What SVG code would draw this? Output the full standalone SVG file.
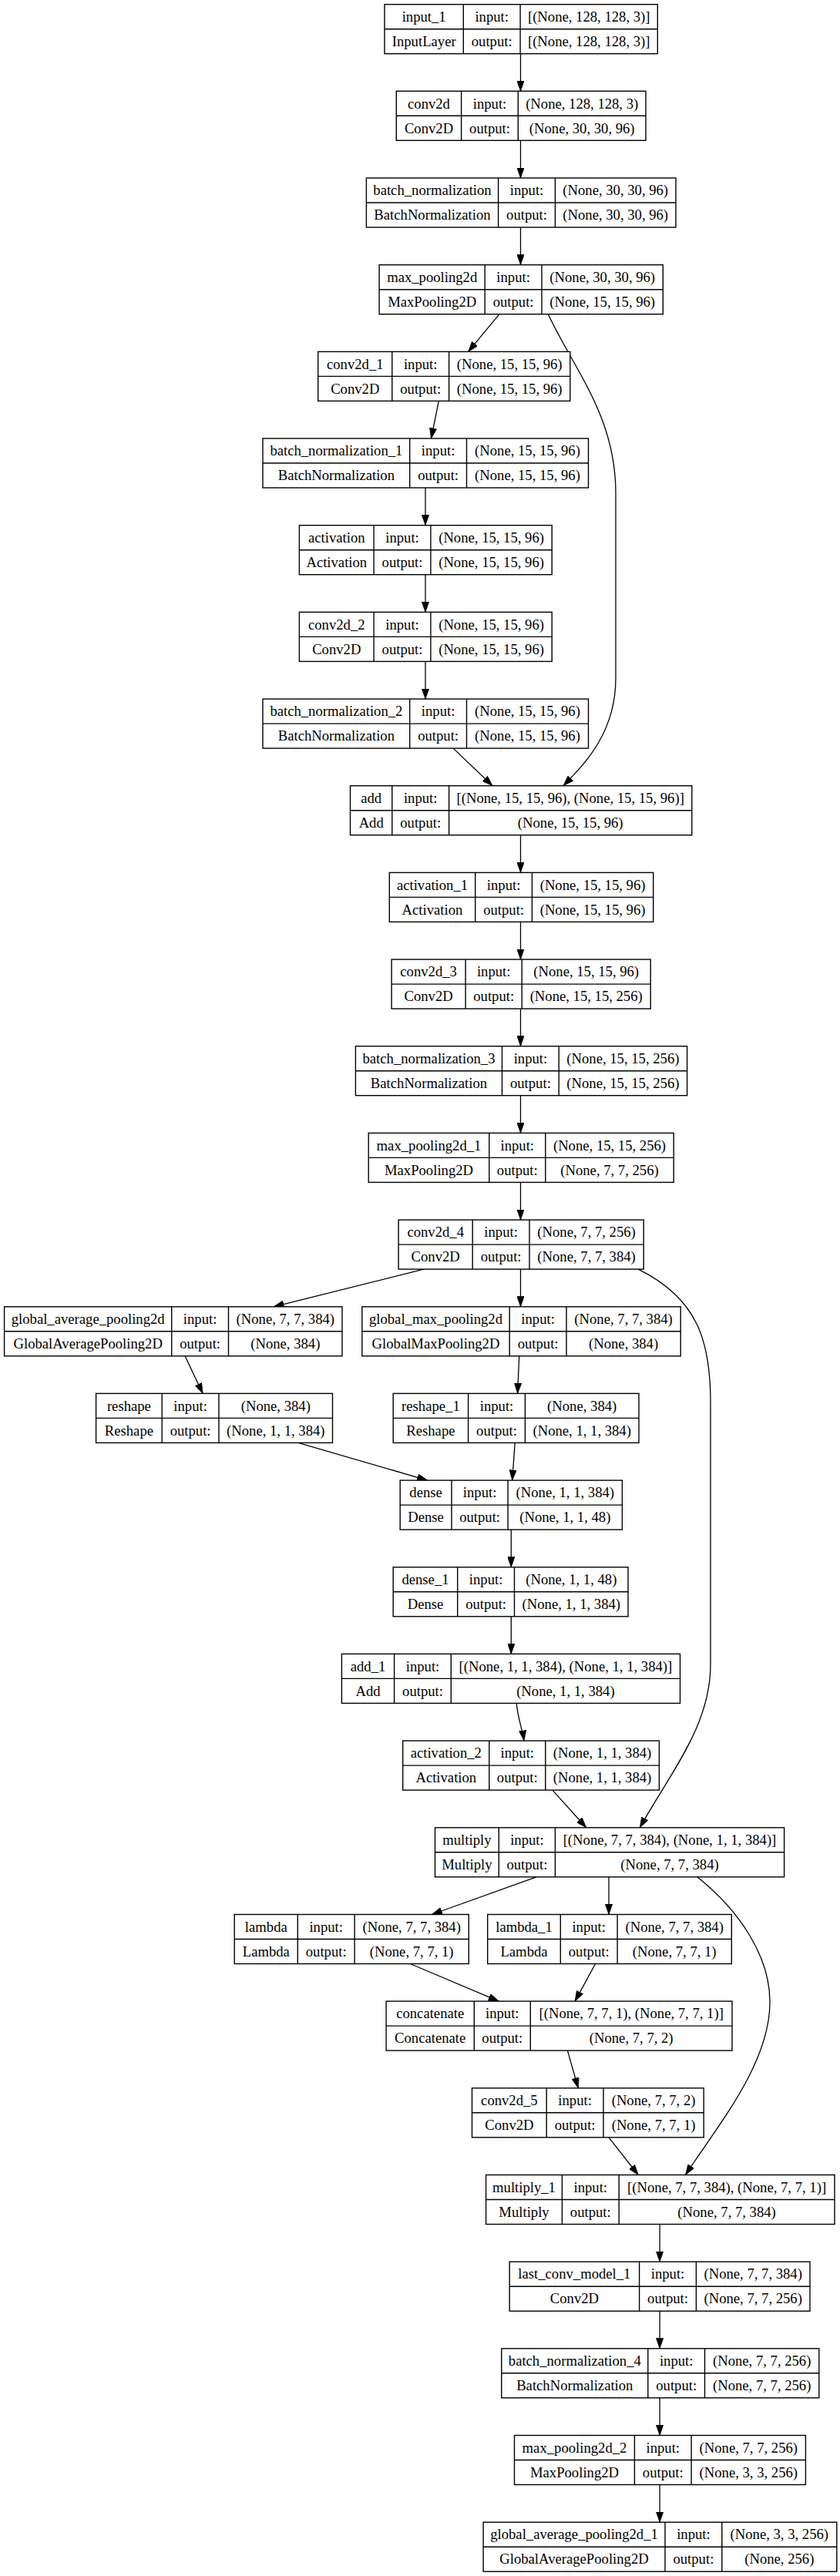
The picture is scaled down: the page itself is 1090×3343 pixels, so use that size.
<svg xmlns="http://www.w3.org/2000/svg" width="1090" height="3343" viewBox="0 0 1090 3343">
<style>
.n rect{fill:#fff;stroke:#000;stroke-width:1.4}
.n line{stroke:#000;stroke-width:1.4}
.n text{font-family:"Liberation Serif","Times New Roman",serif;font-size:18.67px;fill:#000;text-anchor:middle}
.e path{fill:none;stroke:#000;stroke-width:1.3;marker-end:url(#ah)}
</style>
<defs>
<marker id="ah" viewBox="0 0 10 7" refX="10" refY="3.5" markerUnits="userSpaceOnUse" markerWidth="13.5" markerHeight="9.5" orient="auto">
<path d="M0,0 L10,3.5 L0,7 z" fill="#000" stroke="#000" stroke-width="0.5"/>
</marker>
</defs>
<rect x="0" y="0" width="1090" height="3343" fill="#fff"/>

<g class="e" id="connectors">
<path d="M675.5,69.7 L675.5,118.3"/>
<path d="M675.5,182.3 L675.5,231"/>
<path d="M675.5,295 L675.5,343.7"/>
<path d="M648,407.7 L607.6,456.4"/>
<path d="M711.3,407.7 C745,480 799,540 799,640 L799,880 C799,950 760,990 731,1019.7"/>
<path d="M569.3,520.4 L559.5,569"/>
<path d="M552,633 L552,681.7"/>
<path d="M552,745.7 L552,794.4"/>
<path d="M552,858.4 L552,907.1"/>
<path d="M588.1,971.1 L639,1019.7"/>
<path d="M675.5,1083.7 L675.5,1132.4"/>
<path d="M675.5,1196.4 L675.5,1245.1"/>
<path d="M675.5,1309.1 L675.5,1357.7"/>
<path d="M675.5,1421.7 L675.5,1470.4"/>
<path d="M675.5,1534.4 L675.5,1583.1"/>
<path d="M549.8,1647.1 L355,1695.8"/>
<path d="M675.5,1647.1 L675.5,1695.8"/>
<path d="M828.2,1647.1 C905,1685 922,1740 922,1820 L922,2160 C922,2240 870,2300 830.3,2371.8"/>
<path d="M240.1,1759.8 L263.1,1808.4"/>
<path d="M673.7,1759.8 L671.6,1808.4"/>
<path d="M387,1872.4 L554.7,1921.1"/>
<path d="M668.2,1872.4 L664.7,1921.1"/>
<path d="M663.3,1985.1 L663.3,2033.8"/>
<path d="M663.3,2097.8 L663.3,2146.4"/>
<path d="M670.2,2210.4 C672,2230 678,2245 680,2259.1"/>
<path d="M716.9,2323.1 L760.7,2371.8"/>
<path d="M696,2435.8 L560.3,2484.5"/>
<path d="M790,2435.8 L790,2484.5"/>
<path d="M904.8,2435.8 C960,2480 1000,2540 999,2600 C998,2680 930,2760 889.5,2822.5"/>
<path d="M532.4,2548.5 L647.3,2597.1"/>
<path d="M772.6,2548.5 L746.1,2597.1"/>
<path d="M736.4,2661.1 L750.3,2709.8"/>
<path d="M790,2773.8 L828.2,2822.5"/>
<path d="M856.1,2886.5 L856.1,2935.2"/>
<path d="M856.1,2999.2 L856.1,3047.8"/>
<path d="M856.1,3111.8 L856.1,3160.5"/>
<path d="M856.1,3224.5 L856.1,3273.2"/>
</g>

<g class="n" id="input_1" transform="translate(0,5.7)">
<rect x="499" y="0" width="354.3" height="64"/>
<line x1="601.3" y1="0" x2="601.3" y2="64"/><line x1="675.1" y1="0" x2="675.1" y2="64"/><line x1="499" y1="32" x2="853.3" y2="32"/>
<text x="550.2" y="22.3">input_1</text><text x="638.2" y="22.3">input:</text><text x="764.2" y="22.3">[(None, 128, 128, 3)]</text>
<text x="550.2" y="54.3">InputLayer</text><text x="638.2" y="54.3">output:</text><text x="764.2" y="54.3">[(None, 128, 128, 3)]</text>
</g>

<g class="n" id="conv2d" transform="translate(0,118.3)">
<rect x="514.3" y="0" width="323.7" height="64"/>
<line x1="598.6" y1="0" x2="598.6" y2="64"/><line x1="672.3" y1="0" x2="672.3" y2="64"/><line x1="514.3" y1="32" x2="838" y2="32"/>
<text x="556.5" y="22.3">conv2d</text><text x="635.5" y="22.3">input:</text><text x="755.2" y="22.3">(None, 128, 128, 3)</text>
<text x="556.5" y="54.3">Conv2D</text><text x="635.5" y="54.3">output:</text><text x="755.2" y="54.3">(None, 30, 30, 96)</text>
</g>

<g class="n" id="batch_normalization" transform="translate(0,231)">
<rect x="475.4" y="0" width="401.6" height="64"/>
<line x1="646.6" y1="0" x2="646.6" y2="64"/><line x1="720.4" y1="0" x2="720.4" y2="64"/><line x1="475.4" y1="32" x2="877" y2="32"/>
<text x="561" y="22.3">batch_normalization</text><text x="683.5" y="22.3">input:</text><text x="798.7" y="22.3">(None, 30, 30, 96)</text>
<text x="561" y="54.3">BatchNormalization</text><text x="683.5" y="54.3">output:</text><text x="798.7" y="54.3">(None, 30, 30, 96)</text>
</g>

<g class="n" id="max_pooling2d" transform="translate(0,343.7)">
<rect x="492.1" y="0" width="368.2" height="64"/>
<line x1="629.2" y1="0" x2="629.2" y2="64"/><line x1="703" y1="0" x2="703" y2="64"/><line x1="492.1" y1="32" x2="860.3" y2="32"/>
<text x="560.7" y="22.3">max_pooling2d</text><text x="666.1" y="22.3">input:</text><text x="781.7" y="22.3">(None, 30, 30, 96)</text>
<text x="560.7" y="54.3">MaxPooling2D</text><text x="666.1" y="54.3">output:</text><text x="781.7" y="54.3">(None, 15, 15, 96)</text>
</g>

<g class="n" id="conv2d_1" transform="translate(0,456.4)">
<rect x="412.7" y="0" width="327.1" height="64"/>
<line x1="508.8" y1="0" x2="508.8" y2="64"/><line x1="582.6" y1="0" x2="582.6" y2="64"/><line x1="412.7" y1="32" x2="739.8" y2="32"/>
<text x="460.8" y="22.3">conv2d_1</text><text x="545.7" y="22.3">input:</text><text x="661.2" y="22.3">(None, 15, 15, 96)</text>
<text x="460.8" y="54.3">Conv2D</text><text x="545.7" y="54.3">output:</text><text x="661.2" y="54.3">(None, 15, 15, 96)</text>
</g>

<g class="n" id="batch_normalization_1" transform="translate(0,569)">
<rect x="341" y="0" width="422.5" height="64"/>
<line x1="531.7" y1="0" x2="531.7" y2="64"/><line x1="605.5" y1="0" x2="605.5" y2="64"/><line x1="341" y1="32" x2="763.5" y2="32"/>
<text x="436.4" y="22.3">batch_normalization_1</text><text x="568.6" y="22.3">input:</text><text x="684.5" y="22.3">(None, 15, 15, 96)</text>
<text x="436.4" y="54.3">BatchNormalization</text><text x="568.6" y="54.3">output:</text><text x="684.5" y="54.3">(None, 15, 15, 96)</text>
</g>

<g class="n" id="activation" transform="translate(0,681.7)">
<rect x="388.4" y="0" width="327.8" height="64"/>
<line x1="485.1" y1="0" x2="485.1" y2="64"/><line x1="558.9" y1="0" x2="558.9" y2="64"/><line x1="388.4" y1="32" x2="716.2" y2="32"/>
<text x="436.8" y="22.3">activation</text><text x="522" y="22.3">input:</text><text x="637.6" y="22.3">(None, 15, 15, 96)</text>
<text x="436.8" y="54.3">Activation</text><text x="522" y="54.3">output:</text><text x="637.6" y="54.3">(None, 15, 15, 96)</text>
</g>

<g class="n" id="conv2d_2" transform="translate(0,794.4)">
<rect x="388.4" y="0" width="327.8" height="64"/>
<line x1="485.1" y1="0" x2="485.1" y2="64"/><line x1="558.9" y1="0" x2="558.9" y2="64"/><line x1="388.4" y1="32" x2="716.2" y2="32"/>
<text x="436.8" y="22.3">conv2d_2</text><text x="522" y="22.3">input:</text><text x="637.6" y="22.3">(None, 15, 15, 96)</text>
<text x="436.8" y="54.3">Conv2D</text><text x="522" y="54.3">output:</text><text x="637.6" y="54.3">(None, 15, 15, 96)</text>
</g>

<g class="n" id="batch_normalization_2" transform="translate(0,907.1)">
<rect x="341" y="0" width="422.5" height="64"/>
<line x1="531.7" y1="0" x2="531.7" y2="64"/><line x1="605.5" y1="0" x2="605.5" y2="64"/><line x1="341" y1="32" x2="763.5" y2="32"/>
<text x="436.4" y="22.3">batch_normalization_2</text><text x="568.6" y="22.3">input:</text><text x="684.5" y="22.3">(None, 15, 15, 96)</text>
<text x="436.4" y="54.3">BatchNormalization</text><text x="568.6" y="54.3">output:</text><text x="684.5" y="54.3">(None, 15, 15, 96)</text>
</g>

<g class="n" id="add" transform="translate(0,1019.7)">
<rect x="454.5" y="0" width="443.3" height="64"/>
<line x1="508.8" y1="0" x2="508.8" y2="64"/><line x1="582.6" y1="0" x2="582.6" y2="64"/><line x1="454.5" y1="32" x2="897.8" y2="32"/>
<text x="481.7" y="22.3">add</text><text x="545.7" y="22.3">input:</text><text x="740.2" y="22.3">[(None, 15, 15, 96), (None, 15, 15, 96)]</text>
<text x="481.7" y="54.3">Add</text><text x="545.7" y="54.3">output:</text><text x="740.2" y="54.3">(None, 15, 15, 96)</text>
</g>

<g class="n" id="activation_1" transform="translate(0,1132.4)">
<rect x="505.3" y="0" width="342.4" height="64"/>
<line x1="616.7" y1="0" x2="616.7" y2="64"/><line x1="690.4" y1="0" x2="690.4" y2="64"/><line x1="505.3" y1="32" x2="847.7" y2="32"/>
<text x="561" y="22.3">activation_1</text><text x="653.6" y="22.3">input:</text><text x="769.1" y="22.3">(None, 15, 15, 96)</text>
<text x="561" y="54.3">Activation</text><text x="653.6" y="54.3">output:</text><text x="769.1" y="54.3">(None, 15, 15, 96)</text>
</g>

<g class="n" id="conv2d_3" transform="translate(0,1245.1)">
<rect x="508.1" y="0" width="336.1" height="64"/>
<line x1="604.1" y1="0" x2="604.1" y2="64"/><line x1="677.2" y1="0" x2="677.2" y2="64"/><line x1="508.1" y1="32" x2="844.2" y2="32"/>
<text x="556.1" y="22.3">conv2d_3</text><text x="640.7" y="22.3">input:</text><text x="760.7" y="22.3">(None, 15, 15, 96)</text>
<text x="556.1" y="54.3">Conv2D</text><text x="640.7" y="54.3">output:</text><text x="760.7" y="54.3">(None, 15, 15, 256)</text>
</g>

<g class="n" id="batch_normalization_3" transform="translate(0,1357.7)">
<rect x="461.4" y="0" width="430.2" height="64"/>
<line x1="651.5" y1="0" x2="651.5" y2="64"/><line x1="725.2" y1="0" x2="725.2" y2="64"/><line x1="461.4" y1="32" x2="891.6" y2="32"/>
<text x="556.5" y="22.3">batch_normalization_3</text><text x="688.4" y="22.3">input:</text><text x="808.4" y="22.3">(None, 15, 15, 256)</text>
<text x="556.5" y="54.3">BatchNormalization</text><text x="688.4" y="54.3">output:</text><text x="808.4" y="54.3">(None, 15, 15, 256)</text>
</g>

<g class="n" id="max_pooling2d_1" transform="translate(0,1470.4)">
<rect x="478.2" y="0" width="396" height="64"/>
<line x1="634.8" y1="0" x2="634.8" y2="64"/><line x1="707.8" y1="0" x2="707.8" y2="64"/><line x1="478.2" y1="32" x2="874.2" y2="32"/>
<text x="556.5" y="22.3">max_pooling2d_1</text><text x="671.3" y="22.3">input:</text><text x="791" y="22.3">(None, 15, 15, 256)</text>
<text x="556.5" y="54.3">MaxPooling2D</text><text x="671.3" y="54.3">output:</text><text x="791" y="54.3">(None, 7, 7, 256)</text>
</g>

<g class="n" id="conv2d_4" transform="translate(0,1583.1)">
<rect x="517.1" y="0" width="318.1" height="64"/>
<line x1="613.2" y1="0" x2="613.2" y2="64"/><line x1="687" y1="0" x2="687" y2="64"/><line x1="517.1" y1="32" x2="835.2" y2="32"/>
<text x="565.2" y="22.3">conv2d_4</text><text x="650.1" y="22.3">input:</text><text x="761.1" y="22.3">(None, 7, 7, 256)</text>
<text x="565.2" y="54.3">Conv2D</text><text x="650.1" y="54.3">output:</text><text x="761.1" y="54.3">(None, 7, 7, 384)</text>
</g>

<g class="n" id="global_average_pooling2d" transform="translate(0,1695.8)">
<rect x="5.6" y="0" width="438.4" height="64"/>
<line x1="222.7" y1="0" x2="222.7" y2="64"/><line x1="296.5" y1="0" x2="296.5" y2="64"/><line x1="5.6" y1="32" x2="444" y2="32"/>
<text x="114.2" y="22.3">global_average_pooling2d</text><text x="259.6" y="22.3">input:</text><text x="370.3" y="22.3">(None, 7, 7, 384)</text>
<text x="114.2" y="54.3">GlobalAveragePooling2D</text><text x="259.6" y="54.3">output:</text><text x="370.3" y="54.3">(None, 384)</text>
</g>

<g class="n" id="global_max_pooling2d" transform="translate(0,1695.8)">
<rect x="469.8" y="0" width="413.4" height="64"/>
<line x1="661.2" y1="0" x2="661.2" y2="64"/><line x1="735" y1="0" x2="735" y2="64"/><line x1="469.8" y1="32" x2="883.2" y2="32"/>
<text x="565.5" y="22.3">global_max_pooling2d</text><text x="698.1" y="22.3">input:</text><text x="809.1" y="22.3">(None, 7, 7, 384)</text>
<text x="565.5" y="54.3">GlobalMaxPooling2D</text><text x="698.1" y="54.3">output:</text><text x="809.1" y="54.3">(None, 384)</text>
</g>

<g class="n" id="reshape" transform="translate(0,1808.4)">
<rect x="124.6" y="0" width="306.9" height="64"/>
<line x1="210.2" y1="0" x2="210.2" y2="64"/><line x1="284" y1="0" x2="284" y2="64"/><line x1="124.6" y1="32" x2="431.5" y2="32"/>
<text x="167.4" y="22.3">reshape</text><text x="247.1" y="22.3">input:</text><text x="357.8" y="22.3">(None, 384)</text>
<text x="167.4" y="54.3">Reshape</text><text x="247.1" y="54.3">output:</text><text x="357.8" y="54.3">(None, 1, 1, 384)</text>
</g>

<g class="n" id="reshape_1" transform="translate(0,1808.4)">
<rect x="510.2" y="0" width="318.8" height="64"/>
<line x1="607.6" y1="0" x2="607.6" y2="64"/><line x1="681.4" y1="0" x2="681.4" y2="64"/><line x1="510.2" y1="32" x2="829" y2="32"/>
<text x="558.9" y="22.3">reshape_1</text><text x="644.5" y="22.3">input:</text><text x="755.2" y="22.3">(None, 384)</text>
<text x="558.9" y="54.3">Reshape</text><text x="644.5" y="54.3">output:</text><text x="755.2" y="54.3">(None, 1, 1, 384)</text>
</g>

<g class="n" id="dense" transform="translate(0,1921.1)">
<rect x="519.2" y="0" width="288.2" height="64"/>
<line x1="586" y1="0" x2="586" y2="64"/><line x1="659.1" y1="0" x2="659.1" y2="64"/><line x1="519.2" y1="32" x2="807.4" y2="32"/>
<text x="552.6" y="22.3">dense</text><text x="622.6" y="22.3">input:</text><text x="733.3" y="22.3">(None, 1, 1, 384)</text>
<text x="552.6" y="54.3">Dense</text><text x="622.6" y="54.3">output:</text><text x="733.3" y="54.3">(None, 1, 1, 48)</text>
</g>

<g class="n" id="dense_1" transform="translate(0,2033.8)">
<rect x="510.2" y="0" width="304.8" height="64"/>
<line x1="593.7" y1="0" x2="593.7" y2="64"/><line x1="667.5" y1="0" x2="667.5" y2="64"/><line x1="510.2" y1="32" x2="815" y2="32"/>
<text x="552" y="22.3">dense_1</text><text x="630.6" y="22.3">input:</text><text x="741.3" y="22.3">(None, 1, 1, 48)</text>
<text x="552" y="54.3">Dense</text><text x="630.6" y="54.3">output:</text><text x="741.3" y="54.3">(None, 1, 1, 384)</text>
</g>

<g class="n" id="add_1" transform="translate(0,2146.4)">
<rect x="443.4" y="0" width="439.1" height="64"/>
<line x1="511.6" y1="0" x2="511.6" y2="64"/><line x1="585.3" y1="0" x2="585.3" y2="64"/><line x1="443.4" y1="32" x2="882.5" y2="32"/>
<text x="477.5" y="22.3">add_1</text><text x="548.5" y="22.3">input:</text><text x="733.9" y="22.3">[(None, 1, 1, 384), (None, 1, 1, 384)]</text>
<text x="477.5" y="54.3">Add</text><text x="548.5" y="54.3">output:</text><text x="733.9" y="54.3">(None, 1, 1, 384)</text>
</g>

<g class="n" id="activation_2" transform="translate(0,2259.1)">
<rect x="522.7" y="0" width="332.7" height="64"/>
<line x1="634.8" y1="0" x2="634.8" y2="64"/><line x1="707.8" y1="0" x2="707.8" y2="64"/><line x1="522.7" y1="32" x2="855.4" y2="32"/>
<text x="578.8" y="22.3">activation_2</text><text x="671.3" y="22.3">input:</text><text x="781.6" y="22.3">(None, 1, 1, 384)</text>
<text x="578.8" y="54.3">Activation</text><text x="671.3" y="54.3">output:</text><text x="781.6" y="54.3">(None, 1, 1, 384)</text>
</g>

<g class="n" id="multiply" transform="translate(0,2371.8)">
<rect x="564.5" y="0" width="453.1" height="64"/>
<line x1="647.3" y1="0" x2="647.3" y2="64"/><line x1="720.4" y1="0" x2="720.4" y2="64"/><line x1="564.5" y1="32" x2="1017.6" y2="32"/>
<text x="605.9" y="22.3">multiply</text><text x="683.9" y="22.3">input:</text><text x="869" y="22.3">[(None, 7, 7, 384), (None, 1, 1, 384)]</text>
<text x="605.9" y="54.3">Multiply</text><text x="683.9" y="54.3">output:</text><text x="869" y="54.3">(None, 7, 7, 384)</text>
</g>

<g class="n" id="lambda" transform="translate(0,2484.5)">
<rect x="304.2" y="0" width="304.1" height="64"/>
<line x1="386.3" y1="0" x2="386.3" y2="64"/><line x1="460.1" y1="0" x2="460.1" y2="64"/><line x1="304.2" y1="32" x2="608.3" y2="32"/>
<text x="345.3" y="22.3">lambda</text><text x="423.2" y="22.3">input:</text><text x="534.2" y="22.3">(None, 7, 7, 384)</text>
<text x="345.3" y="54.3">Lambda</text><text x="423.2" y="54.3">output:</text><text x="534.2" y="54.3">(None, 7, 7, 1)</text>
</g>

<g class="n" id="lambda_1" transform="translate(0,2484.5)">
<rect x="632.7" y="0" width="316.6" height="64"/>
<line x1="727.3" y1="0" x2="727.3" y2="64"/><line x1="801.1" y1="0" x2="801.1" y2="64"/><line x1="632.7" y1="32" x2="949.3" y2="32"/>
<text x="680" y="22.3">lambda_1</text><text x="764.2" y="22.3">input:</text><text x="875.2" y="22.3">(None, 7, 7, 384)</text>
<text x="680" y="54.3">Lambda</text><text x="764.2" y="54.3">output:</text><text x="875.2" y="54.3">(None, 7, 7, 1)</text>
</g>

<g class="n" id="concatenate" transform="translate(0,2597.1)">
<rect x="501.1" y="0" width="448.9" height="64"/>
<line x1="615.3" y1="0" x2="615.3" y2="64"/><line x1="688.3" y1="0" x2="688.3" y2="64"/><line x1="501.1" y1="32" x2="950" y2="32"/>
<text x="558.2" y="22.3">concatenate</text><text x="651.8" y="22.3">input:</text><text x="819.2" y="22.3">[(None, 7, 7, 1), (None, 7, 7, 1)]</text>
<text x="558.2" y="54.3">Concatenate</text><text x="651.8" y="54.3">output:</text><text x="819.2" y="54.3">(None, 7, 7, 2)</text>
</g>

<g class="n" id="conv2d_5" transform="translate(0,2709.8)">
<rect x="612.5" y="0" width="300.7" height="64"/>
<line x1="709.2" y1="0" x2="709.2" y2="64"/><line x1="783" y1="0" x2="783" y2="64"/><line x1="612.5" y1="32" x2="913.2" y2="32"/>
<text x="660.9" y="22.3">conv2d_5</text><text x="746.1" y="22.3">input:</text><text x="848.1" y="22.3">(None, 7, 7, 2)</text>
<text x="660.9" y="54.3">Conv2D</text><text x="746.1" y="54.3">output:</text><text x="848.1" y="54.3">(None, 7, 7, 1)</text>
</g>

<g class="n" id="multiply_1" transform="translate(0,2822.5)">
<rect x="630.6" y="0" width="452.4" height="64"/>
<line x1="729.4" y1="0" x2="729.4" y2="64"/><line x1="803.2" y1="0" x2="803.2" y2="64"/><line x1="630.6" y1="32" x2="1083" y2="32"/>
<text x="680" y="22.3">multiply_1</text><text x="766.3" y="22.3">input:</text><text x="943.1" y="22.3">[(None, 7, 7, 384), (None, 7, 7, 1)]</text>
<text x="680" y="54.3">Multiply</text><text x="766.3" y="54.3">output:</text><text x="943.1" y="54.3">(None, 7, 7, 384)</text>
</g>

<g class="n" id="last_conv_model_1" transform="translate(0,2935.2)">
<rect x="661.2" y="0" width="389.8" height="64"/>
<line x1="829.6" y1="0" x2="829.6" y2="64"/><line x1="903.4" y1="0" x2="903.4" y2="64"/><line x1="661.2" y1="32" x2="1051" y2="32"/>
<text x="745.4" y="22.3">last_conv_model_1</text><text x="866.5" y="22.3">input:</text><text x="977.2" y="22.3">(None, 7, 7, 384)</text>
<text x="745.4" y="54.3">Conv2D</text><text x="866.5" y="54.3">output:</text><text x="977.2" y="54.3">(None, 7, 7, 256)</text>
</g>

<g class="n" id="batch_normalization_4" transform="translate(0,3047.8)">
<rect x="650.8" y="0" width="412" height="64"/>
<line x1="840.8" y1="0" x2="840.8" y2="64"/><line x1="914.5" y1="0" x2="914.5" y2="64"/><line x1="650.8" y1="32" x2="1062.8" y2="32"/>
<text x="745.8" y="22.3">batch_normalization_4</text><text x="877.7" y="22.3">input:</text><text x="988.7" y="22.3">(None, 7, 7, 256)</text>
<text x="745.8" y="54.3">BatchNormalization</text><text x="877.7" y="54.3">output:</text><text x="988.7" y="54.3">(None, 7, 7, 256)</text>
</g>

<g class="n" id="max_pooling2d_2" transform="translate(0,3160.5)">
<rect x="667.5" y="0" width="377.9" height="64"/>
<line x1="823.4" y1="0" x2="823.4" y2="64"/><line x1="897.1" y1="0" x2="897.1" y2="64"/><line x1="667.5" y1="32" x2="1045.4" y2="32"/>
<text x="745.5" y="22.3">max_pooling2d_2</text><text x="860.3" y="22.3">input:</text><text x="971.3" y="22.3">(None, 7, 7, 256)</text>
<text x="745.5" y="54.3">MaxPooling2D</text><text x="860.3" y="54.3">output:</text><text x="971.3" y="54.3">(None, 3, 3, 256)</text>
</g>

<g class="n" id="global_average_pooling2d_1" transform="translate(0,3273.2)">
<rect x="627.1" y="0" width="458.7" height="64"/>
<line x1="863" y1="0" x2="863" y2="64"/><line x1="936.8" y1="0" x2="936.8" y2="64"/><line x1="627.1" y1="32" x2="1085.8" y2="32"/>
<text x="745" y="22.3">global_average_pooling2d_1</text><text x="899.9" y="22.3">input:</text><text x="1011.3" y="22.3">(None, 3, 3, 256)</text>
<text x="745" y="54.3">GlobalAveragePooling2D</text><text x="899.9" y="54.3">output:</text><text x="1011.3" y="54.3">(None, 256)</text>
</g>
</svg>
